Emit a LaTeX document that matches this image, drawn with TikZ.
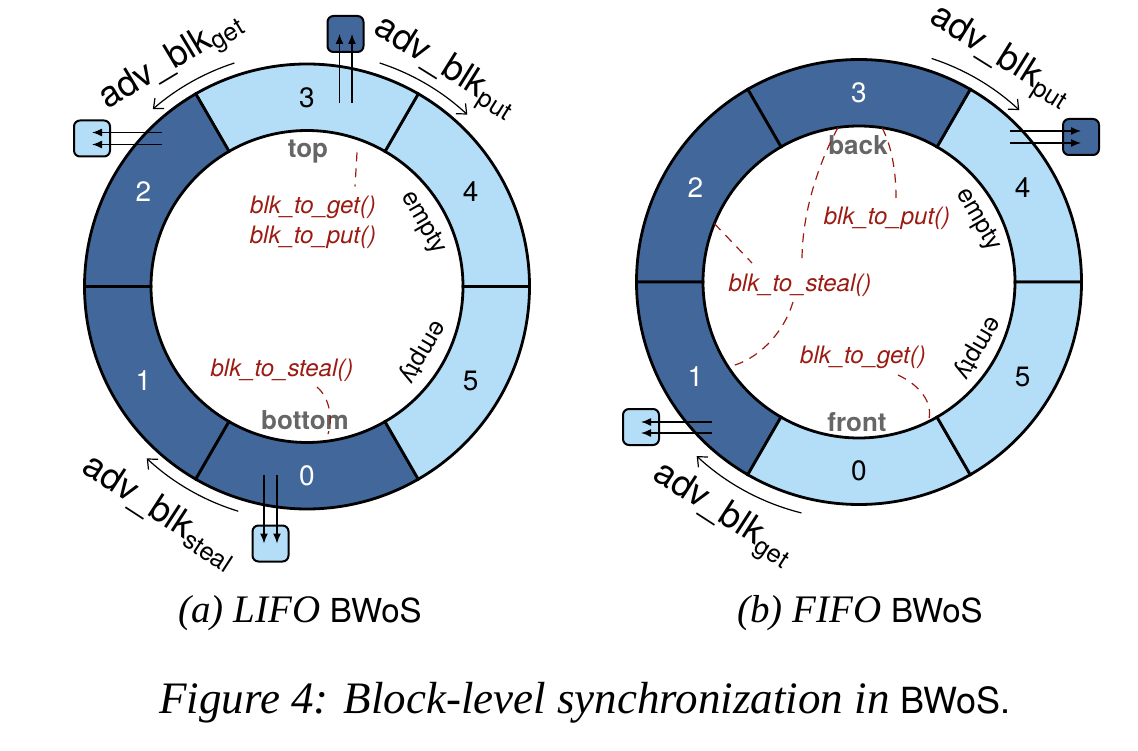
\documentclass[tikz,border=0pt]{standalone}
\usepackage{fontspec}
\setmainfont{Liberation Serif}
\setsansfont{TeX Gyre Heros}
\usetikzlibrary{arrows.meta}

\definecolor{blkdark}{HTML}{42679A}
\definecolor{blklite}{HTML}{B4DEF8}
\definecolor{fnred}{HTML}{9B1B12}
\definecolor{ptrgray}{HTML}{666666}

\tikzset{
  seg/.style={draw, line width=1.4pt},
  num/.style={font=\sffamily\fontsize{14}{14}\selectfont},
  adv/.style={font=\sffamily\fontsize{18}{18}\selectfont},
  advarc/.style={-{Straight Barb[length=4pt,width=7pt]}, line width=0.6pt},
  fn/.style={font=\sffamily\itshape\fontsize{12}{15}\selectfont, text=fnred, align=center},
  ptr/.style={font=\sffamily\bfseries\fontsize{13}{13}\selectfont, text=ptrgray},
  emptylbl/.style={font=\sffamily\fontsize{12.5}{12.5}\selectfont},
  qbox/.style={draw, rounded corners=3pt, line width=1pt, minimum size=18pt, inner sep=0pt},
  pipe/.style={-{Latex[length=5pt,width=4pt]}, line width=0.7pt},
  link/.style={draw=fnred, line width=0.6pt, dash pattern=on 4.5pt off 3.5pt},
  subcap/.style={anchor=base, font=\itshape\fontsize{19.5}{22}\selectfont}
}

\begin{document}
\begin{tikzpicture}[x=0.5pt, y=0.5pt]
  \useasboundingbox (0,0) rectangle (1138,750);

  % (a) LIFO
  \begin{scope}[shift={(307,463.5)}]
    \foreach \a/\col/\n/\txt in {0/blklite/4/black, 60/blklite/3/black, 120/blkdark/2/white,
        180/blkdark/1/white, 240/blkdark/0/white, 300/blklite/5/black} {
      \draw[seg, fill=\col] (\a:222.5) arc[start angle=\a, end angle=\a+60, radius=222.5]
        -- (\a+60:156) arc[start angle=\a+60, end angle=\a, radius=156] -- cycle;
      \node[num, text=\txt] (a\n) at (\a+30:189) {\n};
    }
    \node[ptr] (atop) at (1,134.5) {top};
    \node[ptr] (abot) at (-2,-133.5) {bottom};
    \node[fn] (agetput) at (6,64.5) {blk\_to\_get()\\blk\_to\_put()};
    \node[fn] (asteal) at (-25,-83.5) {blk\_to\_steal()};
    \node[emptylbl, rotate=-60] (aempty1) at (116,63.5) {empty};
    \node[emptylbl, rotate=-120] (aempty2) at (115,-65.5) {empty};

    \coordinate (atop0) at (50,134);
    \coordinate (atop1) at (48,100);
    \draw[link] (atop0) -- (atop1);
    \coordinate (abot0) at (10,-100.5);
    \coordinate (abot1) at (21,-147.5);
    \draw[link] (abot0) .. controls (23,-111.5) and (26,-133.5) .. (abot1);

    % queues
    \node[qbox, fill=blkdark] (aputbox) at (38.5,252.5) {};
    \node[qbox, fill=blklite] (agetbox) at (-215,148) {};
    \node[qbox, fill=blklite] (astealbox) at (-36.5,-257) {};
    \coordinate (ap1) at (32.5,183.5);
    \coordinate (ap2) at (45,183.5);
    \draw[pipe] (ap1) -- (ap1 |- aputbox.center);
    \draw[pipe] (ap2) -- (ap2 |- aputbox.center);
    \coordinate (ag1) at (-145,154);
    \coordinate (ag2) at (-145,142);
    \draw[pipe] (ag1) -- (ag1 -| agetbox.center);
    \draw[pipe] (ag2) -- (ag2 -| agetbox.center);
    \coordinate (as1) at (-43,-188.5);
    \coordinate (as2) at (-30,-188.5);
    \draw[pipe] (as1) -- (as1 |- astealbox.center);
    \draw[pipe] (as2) -- (as2 |- astealbox.center);

    \draw[advarc] (108:235) arc[start angle=108, end angle=131, radius=235];
    \node[adv, rotate=31] (agetlbl) at (121:262) {adv\_blk\textsubscript{get}};
    \draw[advarc] (72:235) arc[start angle=72, end angle=47, radius=235];
    \node[adv, rotate=-32] (aputlbl) at (57.7:258) {adv\_blk\textsubscript{put}};
    \draw[advarc] (-107:235) arc[start angle=-107, end angle=-133, radius=235];
    \node[adv, rotate=-33] (asteallbl) at (-123:269) {adv\_blk\textsubscript{steal}};
  \end{scope}

  % (b) FIFO
  \begin{scope}[shift={(859,468)}]
    \foreach \a/\col/\n/\txt in {0/blklite/4/black, 60/blkdark/3/white, 120/blkdark/2/white,
        180/blkdark/1/white, 240/blklite/0/black, 300/blklite/5/black} {
      \draw[seg, fill=\col] (\a:222.5) arc[start angle=\a, end angle=\a+60, radius=222.5]
        -- (\a+60:156) arc[start angle=\a+60, end angle=\a, radius=156] -- cycle;
      \node[num, text=\txt] (b\n) at (\a+30:189) {\n};
    }
    \node[ptr] (bback) at (-1,137) {back};
    \node[ptr] (bfront) at (-2,-140) {front};
    \node[fn] (bput) at (28,64) {blk\_to\_put()};
    \node[fn] (bsteal) at (-59,-3) {blk\_to\_steal()};
    \node[fn] (bget) at (4,-75) {blk\_to\_get()};
    \node[emptylbl, rotate=-60] (bempty1) at (119,62) {empty};
    \node[emptylbl, rotate=-120] (bempty2) at (118,-66) {empty};

    \coordinate (bA0) at (97.7:156);
    \coordinate (bA1) at (-57,22);
    \draw[link] (bA0) .. controls (-40,120) and (-57,70) .. (bA1);
    \coordinate (bB0) at (81.5:156);
    \coordinate (bB1) at (37,84);
    \draw[link] (bB0) .. controls (33,135) and (37,110) .. (bB1);
    \coordinate (bC0) at (158:156);
    \coordinate (bC1) at (-107,19);
    \draw[link] (bC0) -- (bC1);
    \coordinate (bD0) at (-66,-20);
    \coordinate (bD1) at (213:156);
    \draw[link] (bD0) .. controls (-75,-50) and (-100,-78) .. (bD1);
    \coordinate (bE0) at (39,-93);
    \coordinate (bE1) at (-63.6:156);
    \draw[link] (bE0) .. controls (60,-103) and (75,-120) .. (bE1);

    % queues
    \node[qbox, fill=blkdark] (bputbox) at (222,145) {};
    \node[qbox, fill=blklite] (bgetbox) at (-218,-145) {};
    \coordinate (bp1) at (151,151);
    \coordinate (bp2) at (151,139);
    \draw[pipe] (bp1) -- (bp1 -| bputbox.center);
    \draw[pipe] (bp2) -- (bp2 -| bputbox.center);
    \coordinate (bg1) at (-147,-140);
    \coordinate (bg2) at (-147,-151);
    \draw[pipe] (bg1) -- (bg1 -| bgetbox.center);
    \draw[pipe] (bg2) -- (bg2 -| bgetbox.center);

    \draw[advarc] (72:235) arc[start angle=72, end angle=47, radius=235];
    \node[adv, rotate=-32] (bputlbl) at (57.8:265) {adv\_blk\textsubscript{put}};
    \draw[advarc] (-104:238) arc[start angle=-104, end angle=-133, radius=238];
    \node[adv, rotate=-33] (bgetlbl) at (-120.3:270) {adv\_blk\textsubscript{get}};
  \end{scope}

  % captions
  \node[subcap] (capa) at (300,128)
    {(a) LIFO {\upshape\sffamily\fontsize{16.5}{16.5}\selectfont BWoS}};
  \node[subcap] (capb) at (860,128)
    {(b) FIFO {\upshape\sffamily\fontsize{16.5}{16.5}\selectfont BWoS}};
  \node[anchor=base, font=\itshape\fontsize{22.5}{26}\selectfont] (cap) at (585,37)
    {Figure 4: Block-level synchronization in {\upshape\sffamily\fontsize{18}{18}\selectfont BWoS.}};
\end{tikzpicture}
\end{document}
